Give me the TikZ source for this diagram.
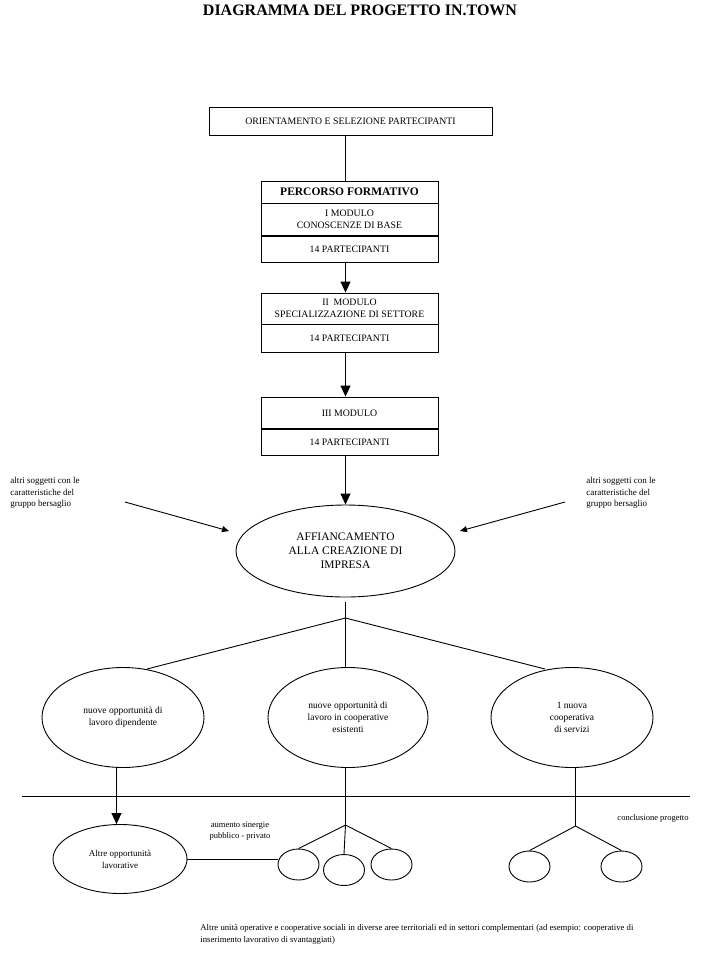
\documentclass[tikz,border=0pt]{standalone}
\usepackage{fontspec}
\setmainfont{Liberation Serif}
\usetikzlibrary{shapes.geometric,arrows.meta}
\begin{document}
\begin{tikzpicture}[x=1pt,y=-1pt, line width=0.9pt,
  box/.style={draw, rectangle, inner sep=0pt, minimum width=177pt, align=center, font=\fontsize{9.8}{12}\selectfont},
  oval/.style={draw, ellipse, inner sep=0pt, align=center},
  small/.style={draw, ellipse, inner sep=0pt, minimum width=41pt, minimum height=31pt},
  arr/.style={-{Triangle[length=11pt,width=10pt]}},
  sarr/.style={-{Triangle[length=7pt,width=6pt]}},
  note/.style={inner sep=0pt, align=left, font=\fontsize{9}{11.5}\selectfont},
  thick line/.style={line width=1.8pt}
]
\useasboundingbox (0,0) rectangle (711,962);
\fill[white] (0,0) rectangle (711,962);

\node[font=\fontsize{16}{18}\selectfont\bfseries] (title) at (360,10) {DIAGRAMMA DEL PROGETTO IN.TOWN};

% box 1
\node[box, minimum width=283pt, minimum height=28pt] (b1) at (350.5,121) {ORIENTAMENTO E SELEZIONE PARTECIPANTI};

% box 2
\node[box, minimum height=22pt, font=\fontsize{11.5}{13}\selectfont\bfseries] (b2a) at (349.5,192) {PERCORSO FORMATIVO};
\node[box, minimum height=33pt] (b2b) at (349.5,219.5) {I MODULO\\CONOSCENZE DI BASE};
\node[box, minimum height=26pt] (b2c) at (349.5,249) {14 PARTECIPANTI};
\draw[thick line] (b2c.north west) -- (b2c.north east);

% box 3
\node[box, minimum height=31pt] (b3a) at (349.5,308.5) {II\ \ MODULO\\SPECIALIZZAZIONE DI SETTORE};
\node[box, minimum height=28pt] (b3b) at (349.5,338) {14 PARTECIPANTI};

% box 4
\node[box, minimum height=32pt] (b4a) at (349.5,413) {III MODULO};
\node[box, minimum height=26pt] (b4b) at (349.5,442) {14 PARTECIPANTI};
\draw[thick line] (b4b.north west) -- (b4b.north east);

% main ellipse
\node[oval, minimum width=219pt, minimum height=92pt, font=\fontsize{11.5}{14}\selectfont] (aff) at (345.5,551) {AFFIANCAMENTO\\ALLA CREAZIONE DI\\IMPRESA};

% connectors top
\draw ([xshift=-5pt]b1.south) -- ([xshift=-4pt]b2a.north);
\draw[arr] ([xshift=-4pt]b2c.south) -- ([xshift=-4pt]b3a.north);
\draw[arr] ([xshift=-4pt]b3b.south) -- ([xshift=-4pt]b4a.north);
\draw[arr] ([xshift=-4pt]b4b.south) -- (aff.north);

% side notes
\node[note, anchor=north west] (lnote) at (10,477) {altri soggetti con le\\caratteristiche del\\gruppo bersaglio};
\node[note, anchor=north west] (rnote) at (586,477) {altri soggetti con le\\caratteristiche del\\gruppo bersaglio};
\coordinate (la) at (125,502);
\coordinate (ra) at (565,502);
\coordinate (lae) at (229,531);
\coordinate (rae) at (460,531);
\draw[sarr] (la) -- (lae);
\draw[sarr] (ra) -- (rae);

% three outcomes
\node[oval, minimum width=162pt, minimum height=100pt, font=\fontsize{9.5}{12}\selectfont] (o1) at (123,717.5) {nuove opportunità di\\lavoro dipendente};
\node[oval, minimum width=160pt, minimum height=100pt, font=\fontsize{9.5}{12}\selectfont] (o2) at (348,717.5) {nuove opportunità di\\lavoro in cooperative\\esistenti};
\node[oval, minimum width=162pt, minimum height=100pt, font=\fontsize{9.5}{12}\selectfont] (o3) at (572,717.5) {1 nuova\\cooperativa\\di servizi};

\coordinate (t0) at (345.5,602);
\coordinate (tb) at (345.5,618);
\draw (t0) -- (tb);
\coordinate (e1) at (147,669);
\coordinate (e3) at (545,669);
\draw (tb) -- (e1);
\draw (tb) -- (e3);
\draw (tb) -- (345.5,667.5);

% separator line
\coordinate (h1) at (22,796.5);
\coordinate (h2) at (690,796.5);
\draw (h1) -- (h2);

% bottom left
\node[oval, minimum width=134pt, minimum height=69pt, font=\fontsize{9}{12}\selectfont] (al) at (120,859) {Altre opportunità\\lavorative};
\coordinate (a0) at (116.5,767);
\draw[arr] (a0) -- (a0 |- al.north);

% small ellipses middle
\node[small] (s1) at (298.5,864.5) {};
\node[small] (s2) at (344,870) {};
\node[small] (s3) at (391.5,864.5) {};
\coordinate (m0) at (345.5,767);
\coordinate (mb) at (345.5,825);
\draw (m0) -- (mb);
\draw (mb) -- (s1.north);
\draw (mb) -- (s2.north);
\draw (mb) -- (s3.north);
\draw (al.east) -- (al.east -| s1.west);
\node[note, align=center, font=\fontsize{8.5}{10.5}\selectfont] (sin) at (240,831) {aumento sinergie\\pubblico - privato};

% small ellipses right
\node[small] (r1) at (529.5,866.5) {};
\node[small] (r2) at (621.5,866.5) {};
\coordinate (n0) at (575.5,767);
\coordinate (nb) at (575.5,826);
\draw (n0) -- (nb);
\draw (nb) -- (r1.north);
\draw (nb) -- (r2.north);
\node[note, font=\fontsize{8.5}{10}\selectfont] (concl) at (653,818) {conclusione progetto};

% bottom note
\node[note, anchor=north west, font=\fontsize{8.7}{11.5}\selectfont] (bot) at (200,924) {Altre unità operative e cooperative sociali in diverse aree territoriali ed in settori complementari (ad esempio: cooperative di\\inserimento lavorativo di svantaggiati)};
\end{tikzpicture}
\end{document}
